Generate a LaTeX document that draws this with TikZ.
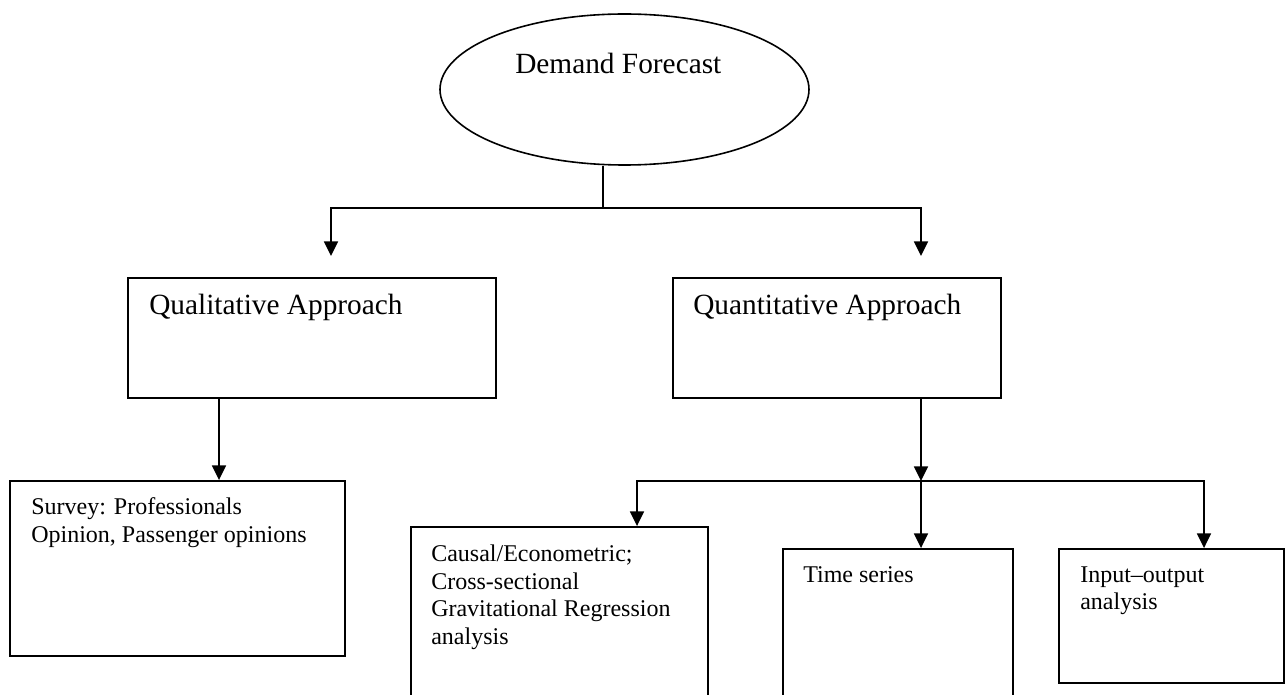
\documentclass[tikz,border=0pt]{standalone}
\usepackage{fontspec}
\setmainfont{Liberation Serif}
\usetikzlibrary{shapes.geometric,arrows.meta}
\tikzset{
  box/.style={draw, rectangle, line width=1.4pt, inner sep=0pt},
  oval/.style={draw, ellipse, line width=1.2pt, inner sep=0pt},
  conn/.style={line width=1.3pt},
  arr/.style={conn, -{Triangle[length=11pt,width=10.5pt]}},
  bigtext/.style={font=\fontsize{22}{26}\selectfont, inner sep=0pt, anchor=base west},
  smalltext/.style={font=\fontsize{18}{#1}\selectfont, inner sep=0pt, anchor=north west, align=left, yshift=0.7*#1 pt},
}
\begin{document}
\begin{tikzpicture}[x=0.75pt, y=-0.75pt]
\clip (0,0) rectangle (1286,695);
\fill[white] (0,0) rectangle (1286,695);

% shapes
\node[oval, minimum width=276.75pt, minimum height=113.25pt] (ell) at (624.5,89.5) {};
\node[box, minimum width=276pt, minimum height=90pt] (qual) at (312,338) {};
\node[box, minimum width=246pt, minimum height=90pt] (quant) at (837,338) {};
\node[box, minimum width=251.25pt, minimum height=131.25pt] (survey) at (177.5,568.5) {};
\node[box, minimum width=222.75pt, minimum height=174.75pt] (causal) at (559.5,643.5) {};
\node[box, minimum width=172.5pt, minimum height=158.25pt] (time) at (898,654.5) {};
\node[box, minimum width=168.75pt, minimum height=100.5pt] (io) at (1171.5,616) {};

% texts
\node[bigtext] (t0) at (515,74) {Demand Forecast};
\node[bigtext] (t1) at (149,315) {Qualitative Approach};
\node[bigtext] (t2) at (693,315) {Quantitative Approach};
\node[smalltext=21] (t3) at (31,514) {\strut Survey: Professionals\\Opinion, Passenger opinions};
\node[smalltext=20.8] (t4) at (431,561) {\strut Causal/Econometric;\\Cross-sectional\\Gravitational Regression\\analysis};
\node[smalltext=20.3] (t5) at (803,582) {\strut Time series};
\node[smalltext=20.3] (t6) at (1080,582) {\strut Input–output\\analysis};

% connector points
\coordinate (b0) at (603,208);
\coordinate (qa) at (331,256);
\coordinate (qb) at (921,256);
\coordinate (s1) at (219,0);
\coordinate (b1) at (921,481);
\coordinate (xa) at (637,0);
\coordinate (xc) at (1204,0);

% connectors
\draw[conn] (b0 |- ell.south) -- (b0);
\draw[arr] (b0) -| (qa);
\draw[arr] (b0) -| (qb);
\draw[arr] (s1 |- qual.south) -- (s1 |- survey.north);
\draw[arr] (b1 |- quant.south) -- (b1);
\draw[arr] (b1) -| (xa |- causal.north);
\draw[arr] (b1) -- (b1 |- time.north);
\draw[arr] (b1) -| (xc |- io.north);
\end{tikzpicture}
\end{document}
